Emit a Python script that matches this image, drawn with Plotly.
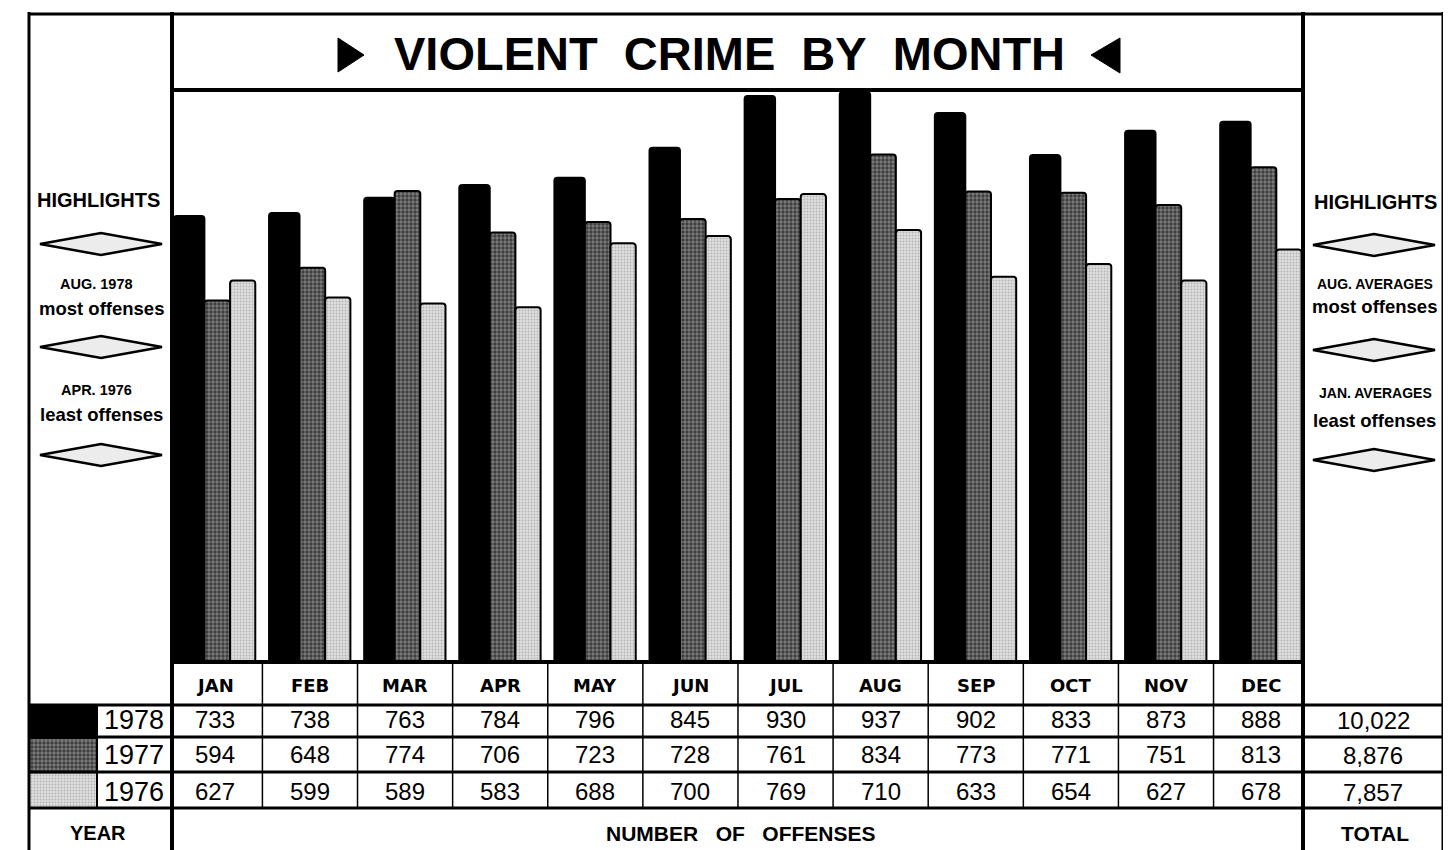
import plotly.graph_objects as go

months = ["JAN", "FEB", "MAR", "APR", "MAY", "JUN", "JUL", "AUG", "SEP", "OCT", "NOV", "DEC"]
years = ["1978", "1977", "1976"]
v1978 = [733, 738, 763, 784, 796, 845, 930, 937, 902, 833, 873, 888]
v1977 = [594, 648, 774, 706, 723, 728, 761, 834, 773, 771, 751, 813]
v1976 = [627, 599, 589, 583, 688, 700, 769, 710, 633, 654, 627, 678]
series = [v1978, v1977, v1976]
left_notes = [("AUG. 1978", "most offenses"), ("APR. 1976", "least offenses")]
right_notes = [("AUG. AVERAGES", "most offenses"), ("JAN. AVERAGES", "least offenses")]

# page body has an 8px margin: figure drawn at (8, 8) in the window
OFF = 8
W, H = 1443, 842
def px(x):
    return (x - OFF) / W
def py(y):
    return 1 - (y - OFF) / H

FONT = "Liberation Sans, Arial, DejaVu Sans"
xs = list(range(len(months)))

fig = go.Figure()
styles = [
    dict(color="#000000"),
    dict(color="#505050", pattern=dict(shape=".", fgcolor="#000000", bgcolor="#7e7e7e", size=4, solidity=0.55)),
    dict(color="#d6d6d6", pattern=dict(shape=".", fgcolor="#8a8a8a", bgcolor="#dedede", size=3, solidity=0.3)),
]
offsets = [-0.43, -0.11, 0.16]
widths = [0.32, 0.27, 0.265]
for name, vals, st, off, wd in zip(years, series, styles, offsets, widths):
    m = dict(st)
    m["line"] = dict(color="black", width=2)
    m["cornerradius"] = 3
    fig.add_trace(go.Bar(x=xs, y=vals, name=name, offset=off, width=wd, marker=m,
                         showlegend=False, hoverinfo="y"))

# year swatches (key) drawn with the same fills as the bars
for k, (name, st) in enumerate(zip(years, styles)):
    m = dict(st)
    m["line"] = dict(width=0)
    fig.add_trace(go.Bar(x=[1], y=[k], orientation="h", width=1, marker=m, name=name,
                         xaxis="x2", yaxis="y2", showlegend=False, hoverinfo="name"))

fig.update_layout(
    width=W, height=H, margin=dict(l=0, r=0, t=0, b=0),
    paper_bgcolor="white", plot_bgcolor="white", barmode="overlay",
    xaxis=dict(domain=[px(173), px(1302)], range=[-0.44, 11.43], visible=False, fixedrange=True),
    yaxis=dict(domain=[py(662), py(90)], range=[0, 940], visible=False, fixedrange=True),
    xaxis2=dict(domain=[px(30), px(96)], range=[0, 1], visible=False, fixedrange=True, anchor="y2"),
    yaxis2=dict(domain=[py(808), py(705)], range=[2.5, -0.5], visible=False, fixedrange=True, anchor="x2"),
    font=dict(family=FONT, color="black"),
)

shapes = []
def hline(y, x0, x1, w=3):
    shapes.append(dict(type="line", xref="paper", yref="paper", x0=px(x0), x1=px(x1),
                       y0=py(y), y1=py(y), line=dict(color="black", width=w)))
def vline(x, y0, y1, w=3):
    shapes.append(dict(type="line", xref="paper", yref="paper", x0=px(x), x1=px(x),
                       y0=py(y0), y1=py(y1), line=dict(color="black", width=w)))
def poly(pts):
    d = "M " + " L ".join(f"{px(a)} {py(b)}" for a, b in pts) + " Z"
    shapes.append(dict(type="path", xref="paper", yref="paper", path=d,
                       fillcolor="black", line=dict(color="black", width=1)))

# frame
vline(29, 12, 851, 3)
vline(1443, 12, 851, 3)
vline(172, 12, 851, 4)
vline(1303, 12, 851, 4)
hline(14, 28, 1444, 3)
hline(90, 172, 1303, 4)
hline(662, 172, 1303, 4)
hline(705, 28, 1444, 3)
hline(737, 28, 1444, 3)
hline(772, 28, 1444, 3)
hline(808, 28, 1444, 3)
vline(97, 705, 808, 2)

# month separators in table
for i in range(len(months) - 1):
    shapes.append(dict(type="line", xref="x", yref="paper", x0=i + 0.5, x1=i + 0.5,
                       y0=py(664), y1=py(808), line=dict(color="black", width=1.5)))

# diamonds
def diamond(cx, cy, hw=61, hh=11):
    path = (f"M {px(cx-hw)} {py(cy)} L {px(cx)} {py(cy-hh)} L {px(cx+hw)} {py(cy)} "
            f"L {px(cx)} {py(cy+hh)} Z")
    shapes.append(dict(type="path", xref="paper", yref="paper", path=path,
                       fillcolor="#ececec", line=dict(color="black", width=2.5)))
for cy in (244, 347, 455):
    diamond(101, cy)
for cy in (245, 350, 460):
    diamond(1374, cy)

# title triangles
poly([(338, 38), (338, 72), (364, 55)])
poly([(1120, 38), (1120, 73), (1091, 55)])

ann = []
def text(x, y, s, size, bold=False, xanchor="center", xref="paper", family=FONT):
    ann.append(dict(x=(x if xref != "paper" else px(x)), y=py(y), xref=xref, yref="paper",
                    text=(f"<b>{s}</b>" if bold else s), showarrow=False,
                    xanchor=xanchor, yanchor="middle",
                    font=dict(size=size, family=family, color="black")))

nb = "\u00a0"
text(730, 54, f"VIOLENT{nb*2}CRIME{nb*2}BY{nb*2}MONTH", 47, bold=True)

# side panels
text(99, 200, "HIGHLIGHTS", 20, bold=True)
text(1375, 202, "HIGHLIGHTS", 20, bold=True)
for (small, big), (ys, yb) in zip(left_notes, [(284, 308), (390, 414)]):
    text(96, ys, small, 14.5, bold=True)
    text(101, yb, big, 18.5, bold=True)
for (small, big), (ys, yb) in zip(right_notes, [(284, 307), (393, 420)]):
    text(1375, ys, small, 14, bold=True)
    text(1374, yb, big, 18.5, bold=True)

# table
DJ = "DejaVu Sans, Liberation Sans"
for i, m in enumerate(months):
    text(i, 685, m, 18, bold=True, xref="x", family=DJ)
row_y = [719, 754, 791]
for yr, vals, ry in zip(years, series, row_y):
    text(166, ry + 1, yr, 27, xanchor="right")
    for i, v in enumerate(vals):
        text(i, ry, str(v), 24, xref="x")
    text(1373, ry + 1, f"{sum(vals):,}", 24)

text(98, 833, "YEAR", 20, bold=True)
text(741, 833, f"NUMBER{nb*3}OF{nb*3}OFFENSES", 21, bold=True)
text(1375, 833, "TOTAL", 21, bold=True)

fig.update_layout(shapes=shapes, annotations=ann)
fig.write_html("out.html")
